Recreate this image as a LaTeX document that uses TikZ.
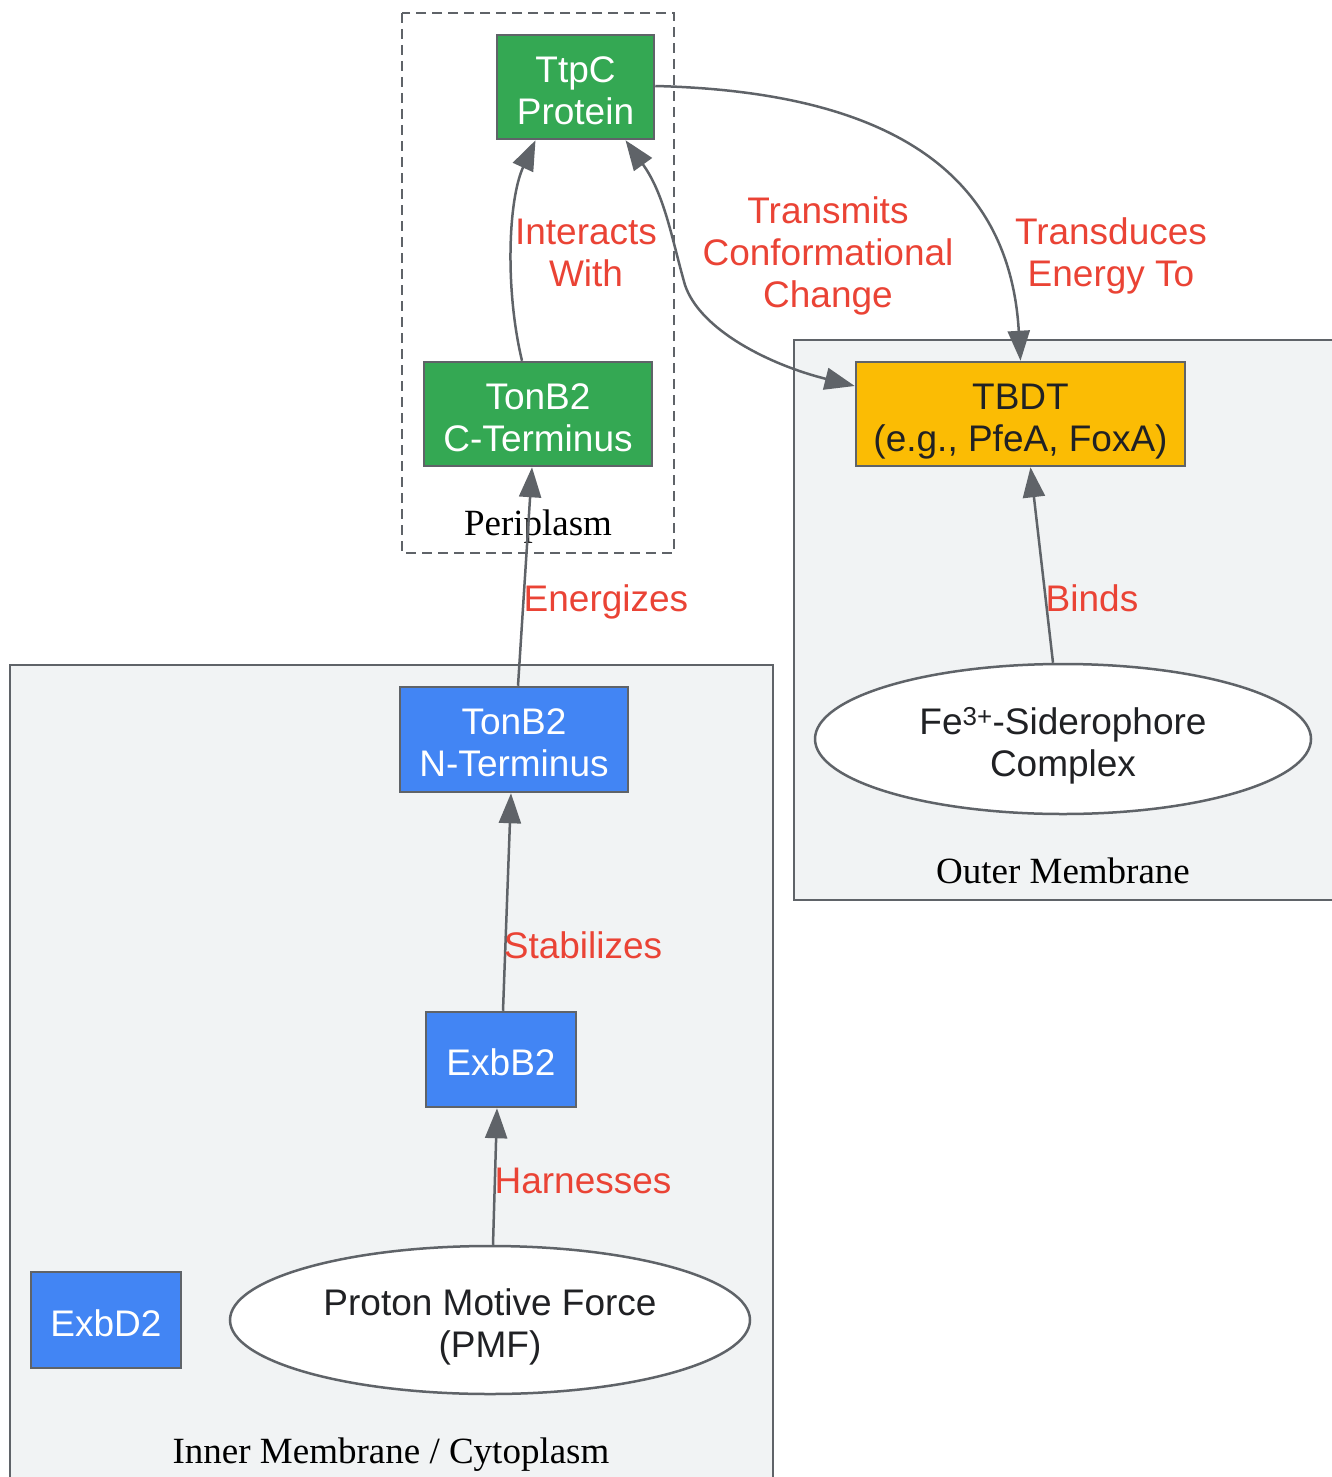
\documentclass[tikz,border=0pt]{standalone}
\usepackage{fontspec}
\setmainfont{Liberation Sans}
\newfontfamily\seriffont{Liberation Serif}
\usetikzlibrary{arrows.meta,shapes.geometric}
\definecolor{edgegray}{HTML}{5F6368}
\definecolor{gfill}{HTML}{34A853}
\definecolor{bfill}{HTML}{4285F4}
\definecolor{yfill}{HTML}{FBBC04}
\definecolor{clfill}{HTML}{F1F3F4}
\definecolor{lblred}{HTML}{EA4335}
\definecolor{dtext}{HTML}{202124}
\tikzset{
  every node/.style={font=\fontsize{37}{42}\selectfont},
  boxnode/.style={draw=edgegray, line width=2.5pt, inner sep=0pt, align=center, text=white, text height=75pt, text depth=0.4pt},
  onel/.style={text height=33pt},
  ellnode/.style={draw=edgegray, line width=2.5pt, ellipse, fill=white, inner sep=0pt, align=center, text=dtext, text height=75pt, text depth=0.4pt},
  cluster/.style={draw=edgegray, line width=2.5pt, fill=clfill},
  cltext/.style={font=\seriffont\fontsize{37}{42}\selectfont, text=black, inner sep=0pt, text height=27pt, text depth=0.4pt},
  conn/.style={draw=edgegray, line width=2.5pt, -{Triangle[length=30pt,width=22pt]}},
  elabel/.style={text=lblred, align=center, inner sep=0pt, text height=27pt, text depth=0.4pt},
  twol/.style={text height=69pt},
  threel/.style={text height=111pt}
}
\begin{document}
\begin{tikzpicture}[x=1pt,y=-1pt]
\useasboundingbox (0,0) rectangle (1332,1477);
\clip (0,0) rectangle (1332,1477);
% clusters
\draw[cluster] (10,665) rectangle (773,1500);
\node[cltext] (iml) at (391,1450) {Inner Membrane / Cytoplasm};
\draw[cluster] (794,340) rectangle (1350,900);
\node[cltext] (oml) at (1063,870) {Outer Membrane};
\draw[draw=edgegray, line width=2.5pt, dashed, dash pattern=on 10pt off 6pt] (402,13) rectangle (674,553);
\node[cltext] (pl) at (538,522) {Periplasm};
% nodes
\node[boxnode, fill=gfill, minimum width=157pt, minimum height=104pt] (ttpc) at (575.5,87) {TtpC\\Protein};
\node[boxnode, fill=gfill, minimum width=228pt, minimum height=104pt] (tonbc) at (538,414) {TonB2\\C-Terminus};
\node[boxnode, fill=yfill, text=dtext, minimum width=329pt, minimum height=104pt] (tbdt) at (1020.5,414) {TBDT\\(e.g., PfeA, FoxA)};
\node[ellnode, minimum width=496pt, minimum height=150pt] (fe) at (1063,739) {Fe\textsuperscript{3+}-Siderophore\\Complex};
\node[boxnode, fill=bfill, minimum width=228pt, minimum height=105pt] (tonbn) at (514,739.5) {TonB2\\N-Terminus};
\node[boxnode, onel, fill=bfill, minimum width=150pt, minimum height=95pt] (exbb) at (501,1059.5) {ExbB2};
\node[boxnode, onel, fill=bfill, minimum width=150pt, minimum height=96pt] (exbd) at (106,1320) {ExbD2};
\node[ellnode, minimum width=520pt, minimum height=148pt] (pmf) at (490,1320) {Proton Motive Force\\(PMF)};
% edges
\draw[conn] ([xshift=3pt]pmf.north) -- ([xshift=-4pt]exbb.south);
\draw[conn] ([xshift=2pt]exbb.north) -- ([xshift=-3pt]tonbn.south);
\draw[conn] ([xshift=4pt]tonbn.north) -- ([xshift=-6pt]tonbc.south);
\draw[conn] ([xshift=-16pt]tonbc.north) .. controls (505,290) and (508,200) .. ([xshift=-40pt]ttpc.south);
\draw[conn, {Triangle[length=30pt,width=22pt]}-{Triangle[length=30pt,width=22pt]}] ([xshift=50pt]ttpc.south) .. controls (665,195) and (672,240) .. (685,285) .. controls (700,330) and (770,365) .. ([yshift=28pt]tbdt.west);
\draw[conn] ([yshift=1pt]ttpc.east) .. controls (900,92) and (1010,180) .. (tbdt.north);
\draw[conn] ([xshift=-10pt]fe.north) -- ([xshift=10pt]tbdt.south);
% labels
\node[elabel] (l1) at (583,1180) {Harnesses};
\node[elabel] (l2) at (583,945) {Stabilizes};
\node[elabel] (l3) at (606,598) {Energizes};
\node[elabel, twol] (l4) at (586,252.5) {Interacts\\With};
\node[elabel, threel] (l5) at (828,252.5) {Transmits\\Conformational\\Change};
\node[elabel, twol] (l6) at (1111,252.5) {Transduces\\Energy To};
\node[elabel] (l7) at (1092,598) {Binds};
\end{tikzpicture}
\end{document}
